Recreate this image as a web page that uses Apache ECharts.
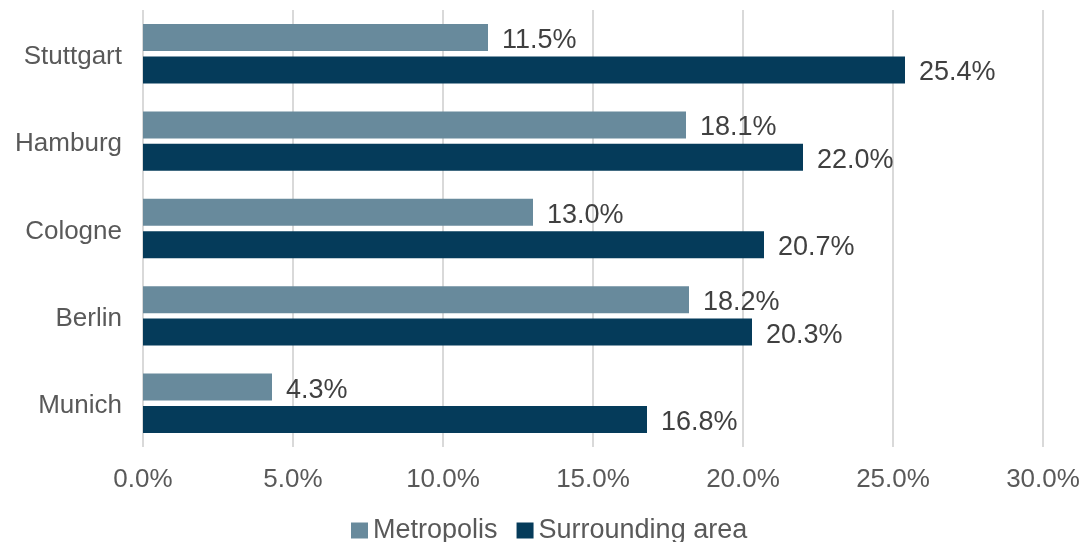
<!DOCTYPE html>
<html>
<head>
<meta charset="utf-8">
<script src="https://cdn.jsdelivr.net/npm/echarts@6/dist/echarts.min.js"></script>
<style>html,body{margin:0;padding:0;background:#fff;}#c{width:1083px;height:542px;}</style>
</head>
<body>
<div id="c"></div>
<script>
const categories = ['Stuttgart', 'Hamburg', 'Cologne', 'Berlin', 'Munich'];
const metropolis = [11.5, 18.1, 13.0, 18.2, 4.3];
const surrounding = [25.4, 22.0, 20.7, 20.3, 16.8];
const seriesNames = ['Metropolis', 'Surrounding area'];
const xTicks = { min: 0, max: 30, interval: 5 };

const font = '"Liberation Sans", Arial, sans-serif';
const chart = echarts.init(document.getElementById('c'), null, { renderer: 'canvas' });
const labelCfg = {
  show: true, position: 'right', distance: 14, offset: [0, 3],
  color: '#404040', fontSize: 27, fontFamily: font,
  formatter: p => p.value.toFixed(1) + '%'
};
chart.setOption({
  animation: false,
  grid: { left: 143, right: 40, top: 10, bottom: 95, containLabel: false },
  legend: {
    top: 517, left: 351, itemWidth: 17, itemHeight: 16, itemGap: 19,
    icon: 'rect', padding: 0,
    textStyle: { color: '#595959', fontSize: 27, fontFamily: font, padding: [0, 0, 0, 0] },
    data: seriesNames
  },
  xAxis: {
    type: 'value', min: xTicks.min, max: xTicks.max, interval: xTicks.interval,
    axisLabel: { color: '#595959', fontSize: 26, fontFamily: font, margin: 20,
      formatter: v => v.toFixed(1) + '%' },
    axisLine: { show: false }, axisTick: { show: false },
    splitLine: { show: true, lineStyle: { color: '#d9d9d9', width: 2 } }
  },
  yAxis: {
    type: 'category', data: categories, inverse: true,
    axisLabel: { color: '#595959', fontSize: 26, fontFamily: font, margin: 21,
      formatter: v => '{a|' + v + '}',
      rich: { a: { color: '#595959', fontSize: 26, fontFamily: font, padding: [6, 0, 0, 0] } } },
    axisLine: { show: false }, axisTick: { show: false }
  },
  series: [
    { name: seriesNames[0], type: 'bar', data: metropolis, barGap: '20%', barCategoryGap: '32%',
      itemStyle: { color: '#688a9c' }, label: labelCfg },
    { name: seriesNames[1], type: 'bar', data: surrounding, barGap: '20%', barCategoryGap: '32%',
      itemStyle: { color: '#053b5a' }, label: labelCfg }
  ]
});
</script>
</body>
</html>
